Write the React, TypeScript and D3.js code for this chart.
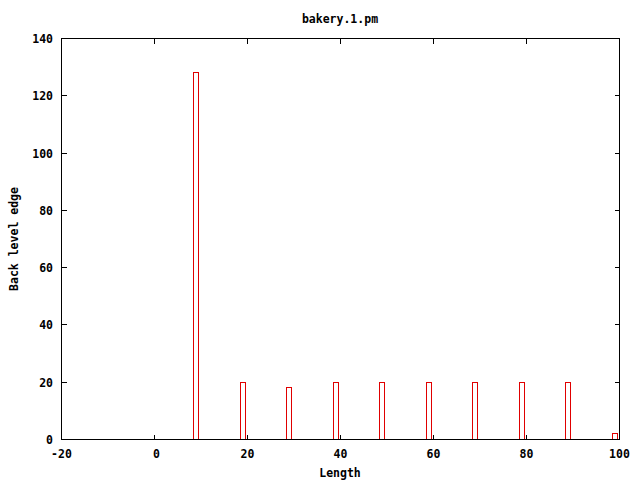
import React, { useEffect, useRef } from 'react';
import * as d3 from 'd3';

// bin centres and counts
const lengths = [8.9, 18.9, 28.9, 38.9, 48.9, 58.9, 68.9, 78.9, 88.9, 98.9];
const counts = [128, 20, 18, 20, 20, 20, 20, 20, 20, 2];
const xTicks = [-20, 0, 20, 40, 60, 80, 100];
const yTicks = [0, 20, 40, 60, 80, 100, 120, 140];
const binWidth = 1;

const App = () => {
    const svgRef = useRef<SVGSVGElement>(null);

    useEffect(() => {
        const svg = d3.select(svgRef.current);
        const width = 640;
        const height = 480;
        const font = '"DejaVu Sans Mono", monospace';

        svg.selectAll('*').remove();

        const x = d3.scaleLinear().domain([-20, 100]).range([61.5, 619.5]);
        const y = d3.scaleLinear().domain([0, 140]).range([439.5, 38.5]);
        const snap = (v: number) => Math.round(v - 0.5) + 0.5;

        // bars (outlined boxes)
        svg.selectAll('.bar')
            .data(lengths)
            .enter()
            .append('rect')
            .attr('class', 'bar')
            .attr('x', d => snap(x(d - binWidth / 2)))
            .attr('y', (d, i) => snap(y(counts[i])))
            .attr('width', d => Math.max(1, Math.round(x(d + binWidth / 2) - x(d - binWidth / 2))))
            .attr('height', (d, i) => snap(y(0)) - snap(y(counts[i])))
            .attr('fill', 'none')
            .attr('stroke', '#e00000')
            .attr('stroke-width', 1)
            .attr('shape-rendering', 'crispEdges');

        const g = svg.append('g').attr('shape-rendering', 'crispEdges');

        // ticks, mirrored on all four sides, pointing inward
        const tl = 5;
        xTicks.forEach(t => {
            const px = snap(x(t));
            g.append('line').attr('x1', px).attr('x2', px).attr('y1', y(0)).attr('y2', y(0) - tl).attr('stroke', '#000');
            g.append('line').attr('x1', px).attr('x2', px).attr('y1', y(140)).attr('y2', y(140) + tl).attr('stroke', '#000');
            svg.append('text')
                .attr('x', px + (t === 0 ? 2 : 0))
                .attr('y', 458)
                .attr('text-anchor', 'middle')
                .attr('font-family', font)
                .attr('font-weight', 'bold')
                .attr('font-size', '11.5px')
                .text(t);
        });
        yTicks.forEach(t => {
            const py = snap(y(t));
            g.append('line').attr('x1', x(-20)).attr('x2', x(-20) + tl).attr('y1', py).attr('y2', py).attr('stroke', '#000');
            g.append('line').attr('x1', x(100)).attr('x2', x(100) - tl).attr('y1', py).attr('y2', py).attr('stroke', '#000');
            svg.append('text')
                .attr('x', 53)
                .attr('y', py + 4)
                .attr('text-anchor', 'end')
                .attr('font-family', font)
                .attr('font-weight', 'bold')
                .attr('font-size', '11.5px')
                .text(t);
        });

        // frame
        g.append('rect')
            .attr('x', x(-20))
            .attr('y', y(140))
            .attr('width', x(100) - x(-20))
            .attr('height', y(0) - y(140))
            .attr('fill', 'none')
            .attr('stroke', '#000');

        // title and axis labels
        svg.append('text')
            .attr('x', 340)
            .attr('y', 23)
            .attr('text-anchor', 'middle')
            .attr('font-family', font)
            .attr('font-weight', 'bold')
            .attr('font-size', '11.5px')
            .text('bakery.1.pm');

        svg.append('text')
            .attr('x', 340)
            .attr('y', 477)
            .attr('text-anchor', 'middle')
            .attr('font-family', font)
            .attr('font-weight', 'bold')
            .attr('font-size', '11.5px')
            .text('Length');

        svg.append('text')
            .attr('transform', `translate(18,${(y(0) + y(140)) / 2}) rotate(-90)`)
            .attr('text-anchor', 'middle')
            .attr('font-family', font)
            .attr('font-weight', 'bold')
            .attr('font-size', '11.5px')
            .text('Back level edge');

        svg.attr('width', width).attr('height', height);
    }, []);

    return (
        <svg
            ref={svgRef}
            width={640}
            height={480}
            style={{ position: 'absolute', left: 0, top: 0, background: '#fff' }}
        ></svg>
    );
};

export default App;
